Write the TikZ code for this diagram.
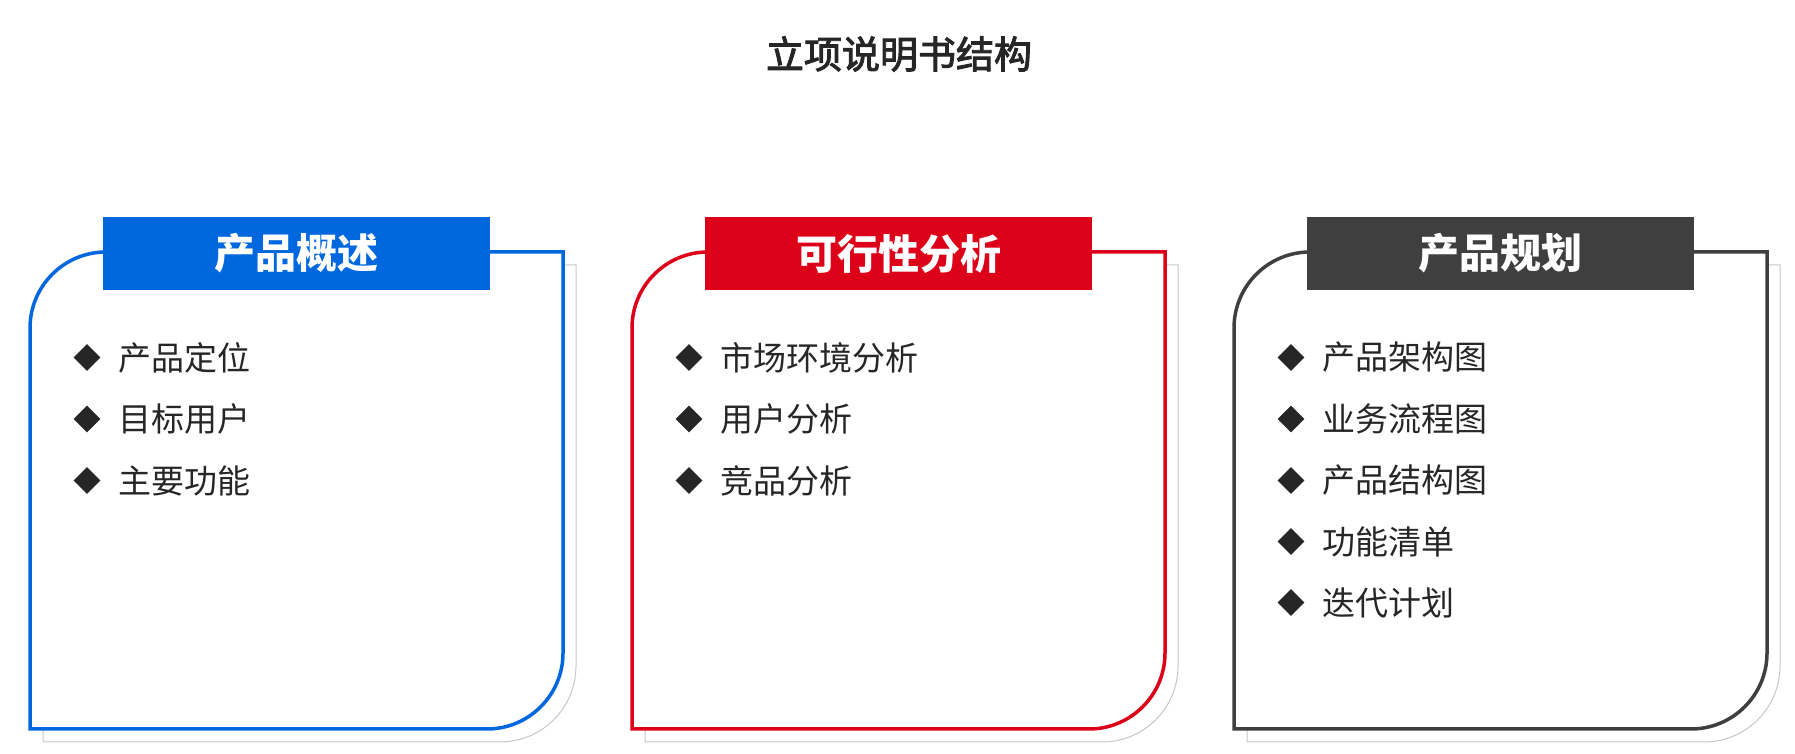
\documentclass[tikz,border=0pt]{standalone}
\usepackage{fontspec}
\setmainfont{Noto Sans CJK SC}
\newfontfamily\titlefont[FakeBold=2.5]{Noto Sans CJK SC}
\usetikzlibrary{shapes.geometric}
\definecolor{cardblue}{HTML}{0067DE}
\definecolor{cardred}{HTML}{DC0018}
\definecolor{cardgray}{HTML}{3F3F3F}
\definecolor{inktext}{HTML}{262626}
\tikzset{
  cardframe/.style={line width=3.5pt,fill=white},
  backshadow/.style={line width=1pt,draw=black!22,fill=white,shift={(13pt,-13pt)}},
  headbox/.style={minimum width=387pt,minimum height=73pt,inner sep=0pt,
    text=white,font=\fontsize{41}{41}\selectfont\bfseries},
  bullet/.style={diamond,fill=inktext,inner sep=0pt,minimum width=27pt,minimum height=27pt},
  itemtext/.style={anchor=west,inner sep=0pt,text=inktext,font=\fontsize{33}{33}\selectfont},
}
\begin{document}
\begin{tikzpicture}[x=1pt,y=1pt]
  \useasboundingbox (0,0) rectangle (1795,754);
  \node[text=inktext,font=\titlefont\fontsize{38}{38}\selectfont] (title) at (899,700) {立项说明书结构};

  % 产品概述
  \draw[backshadow] (30,426) arc[start angle=180,end angle=90,radius=76pt] -- (563,502)
    -- (563,101) arc[start angle=0,end angle=-90,radius=76pt] -- (30,25) -- cycle;
  \draw[cardframe,draw=cardblue] (30,426) arc[start angle=180,end angle=90,radius=76pt] -- (563,502)
    -- (563,101) arc[start angle=0,end angle=-90,radius=76pt] -- (30,25) -- cycle;
  \node[headbox,fill=cardblue] (overview) at (296.5,500.5) {产品概述};
  \node[bullet] (b11) at (87,396.5) {};
  \node[itemtext] (t11) at (118,396.5) {产品定位};
  \node[bullet] (b12) at (87,335) {};
  \node[itemtext] (t12) at (118,335) {目标用户};
  \node[bullet] (b13) at (87,273.5) {};
  \node[itemtext] (t13) at (118,273.5) {主要功能};

  % 可行性分析
  \draw[backshadow] (632,426) arc[start angle=180,end angle=90,radius=76pt] -- (1165,502)
    -- (1165,101) arc[start angle=0,end angle=-90,radius=76pt] -- (632,25) -- cycle;
  \draw[cardframe,draw=cardred] (632,426) arc[start angle=180,end angle=90,radius=76pt] -- (1165,502)
    -- (1165,101) arc[start angle=0,end angle=-90,radius=76pt] -- (632,25) -- cycle;
  \node[headbox,fill=cardred] (feasibility) at (898.5,500.5) {可行性分析};
  \node[bullet] (b21) at (689,396.5) {};
  \node[itemtext] (t21) at (720,396.5) {市场环境分析};
  \node[bullet] (b22) at (689,335) {};
  \node[itemtext] (t22) at (720,335) {用户分析};
  \node[bullet] (b23) at (689,273.5) {};
  \node[itemtext] (t23) at (720,273.5) {竞品分析};

  % 产品规划
  \draw[backshadow] (1234,426) arc[start angle=180,end angle=90,radius=76pt] -- (1767,502)
    -- (1767,101) arc[start angle=0,end angle=-90,radius=76pt] -- (1234,25) -- cycle;
  \draw[cardframe,draw=cardgray] (1234,426) arc[start angle=180,end angle=90,radius=76pt] -- (1767,502)
    -- (1767,101) arc[start angle=0,end angle=-90,radius=76pt] -- (1234,25) -- cycle;
  \node[headbox,fill=cardgray] (planning) at (1500.5,500.5) {产品规划};
  \node[bullet] (b31) at (1291,396.5) {};
  \node[itemtext] (t31) at (1322,396.5) {产品架构图};
  \node[bullet] (b32) at (1291,335) {};
  \node[itemtext] (t32) at (1322,335) {业务流程图};
  \node[bullet] (b33) at (1291,273.5) {};
  \node[itemtext] (t33) at (1322,273.5) {产品结构图};
  \node[bullet] (b34) at (1291,212.5) {};
  \node[itemtext] (t34) at (1322,212.5) {功能清单};
  \node[bullet] (b35) at (1291,151.5) {};
  \node[itemtext] (t35) at (1322,151.5) {迭代计划};
\end{tikzpicture}
\end{document}
